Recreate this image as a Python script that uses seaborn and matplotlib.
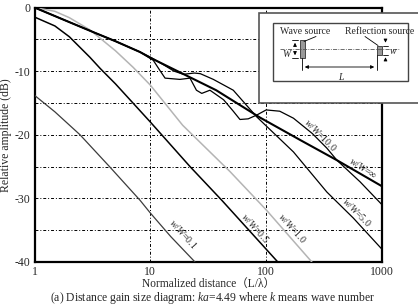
import numpy as np
import pandas as pd
import matplotlib
matplotlib.use('Agg')
import matplotlib.pyplot as plt
from matplotlib.patches import Rectangle
import seaborn as sns

# curve data (distance L/lambda, amplitude dB)
dist_01 = [1, 1.5, 2.47, 4.49, 8.15, 10, 15, 24.3]
amp_01 = [-13.8, -16.4, -20.0, -25.1, -30.3, -32.3, -36.0, -40.0]

dist_05 = [1, 1.5, 2, 3, 3.7, 5, 10, 22, 41.4, 126]
amp_05 = [-1.5, -2.9, -4.6, -7.8, -9.6, -12.0, -18.0, -25.0, -30.3, -40.0]

dist_10 = [1, 1.5, 2, 3, 5, 7.1, 10, 19, 48.8, 100, 248]
amp_10 = [0, -0.6, -1.6, -3.5, -6.8, -9.4, -12.2, -18.5, -25.8, -31.8, -40.0]

dist_50 = [1, 2, 3.45, 5, 8.15, 10, 13, 16, 19.3, 24, 27, 35, 52, 83, 172, 334, 566, 1000]
amp_50 = [0, -2.3, -4.1, -5.3, -7.0, -7.8, -9.0, -10.0, -10.5, -10.3, -10.4, -11.3,
          -13.0, -17.2, -22.7, -29.0, -33.1, -38.0]

dist_100 = [1, 2, 3.45, 5, 8.15, 10.6, 12, 13.4, 18, 22, 25, 27.8, 32.7, 42.9, 52,
            59.4, 70, 83, 100, 131, 172, 250, 334, 408, 647, 1000]
amp_100 = [0, -2.3, -4.1, -5.3, -7.0, -8.3, -9.8, -11.1, -11.3, -11.1, -13.0, -13.5,
           -13.0, -14.5, -16.3, -17.6, -17.5, -16.9, -16.1, -16.3, -17.4, -19.8,
           -22.1, -24.0, -27.4, -31.0]

dist_inf = [1, 2, 3.45, 5, 8.15, 10, 20, 37, 88.5, 200, 408, 1000]
amp_inf = [0, -2.3, -4.1, -5.3, -7.0, -7.9, -10.6, -13.0, -17.3, -20.9, -24.0, -28.1]

x_ticks = [1, 10, 100, 1000]
x_ticklabels = ['1', '10', '100', '1000']
y_ticks = [0, -10, -20, -30, -40]
y_ticklabels = ['0', '-10', '-20', '-30', '-40']

sns.set_style('white')
plt.rcParams['font.family'] = ['Liberation Serif', 'Noto Sans CJK JP', 'DejaVu Serif']
plt.rcParams['mathtext.fontset'] = 'custom'
plt.rcParams['mathtext.rm'] = 'Liberation Serif'
plt.rcParams['mathtext.it'] = 'Liberation Serif:italic'

W, H = 418, 306
fig = plt.figure(figsize=(W / 100, H / 100), dpi=100)
ax = fig.add_axes([34.5 / W, 1 - 262 / H, (382 - 34.5) / W, (262 - 7.5) / H])

curves = [
    (dist_01, amp_01, '#3c3c3c', 0.9),
    (dist_05, amp_05, 'black', 1.1),
    (dist_10, amp_10, '#b4b4b4', 1.1),
    (dist_50, amp_50, 'black', 0.9),
    (dist_100, amp_100, 'black', 0.9),
    (dist_inf, amp_inf, 'black', 1.5),
]
for d, a, c, lw in curves:
    df = pd.DataFrame({'dist': d, 'amp': a})
    sns.lineplot(data=df, x='dist', y='amp', ax=ax, color=c, lw=lw,
                 sort=False, estimator=None, zorder=3)

ax.set_xscale('log')
ax.set_xlim(1, 1000)
ax.set_ylim(-40, 0)
ax.set_xticks(x_ticks)
ax.set_xticklabels(x_ticklabels)
ax.xaxis.set_minor_locator(matplotlib.ticker.NullLocator())
ax.set_yticks(y_ticks)
ax.set_yticklabels(y_ticklabels)
ax.set_yticks([-5, -15, -25, -35], minor=True)
ax.tick_params(which='both', length=0, labelsize=8.5, pad=3)
ax.grid(True, which='both', color='black', lw=0.7, linestyle=(0, (3, 2, 1, 2)))
for s in ax.spines.values():
    s.set_linewidth(1.6)
    s.set_color('black')
ax.set_xlabel('')
ax.set_ylabel('Relative amplitude (dB)', fontsize=8.5, labelpad=2)
fig.text(208 / W, 1 - 284 / H, 'Normalized distance（L/λ）', fontsize=8.3,
         ha='center', va='center')

# curve labels
lab_kw = dict(fontsize=7, ha='center', va='center', zorder=4)
ax.text(19.2, -35.5, r'$w/W$=0.1', rotation=-48, **lab_kw)
ax.text(80, -34.7, r'$w/W$=0.5', rotation=-48, **lab_kw)
ax.text(167, -34.7, r'$w/W$=1.0', rotation=-48, **lab_kw)
ax.text(609, -32.2, r'$w/W$=5.0', rotation=-45, **lab_kw)
ax.text(687, -25.2, r'$w/W$=∞', rotation=-33, **lab_kw)
ax.text(292, -20.0, r'$w/W$=10.0', rotation=-45, **lab_kw)

fig.text(213 / W, 1 - 301.5 / H,
         r'(a) Distance gain size diagram: $ka$=4.49 where $k$ means wave number',
         fontsize=8.4, ha='center', va='baseline')

# inset sketch drawn in figure pixels
ov = fig.add_axes([0, 0, 1, 1], zorder=10)
ov.set_xlim(0, W)
ov.set_ylim(H, 0)
ov.axis('off')
ov.add_patch(Rectangle((259, 13), 160, 90, fc='white', ec='#555555', lw=1.2))
ov.add_patch(Rectangle((273, 23), 135, 58, fc='white', ec='#444444', lw=1.0))
ov.plot([280, 400], [49.3, 49.3], color='#555555', lw=0.6, ls=(0, (5, 1.5, 1, 1.5)))
ov.add_patch(Rectangle((300, 40), 5, 18, fc='#999999', ec='#333333', lw=0.6))
ov.add_patch(Rectangle((376.5, 45.5), 5, 9, fc='#999999', ec='#333333', lw=0.6))
ov.text(305, 32, 'Wave source', fontsize=7, ha='center', va='center')
ov.text(380, 32, 'Reflection source', fontsize=7, ha='center', va='center')
ov.plot([316, 304], [36.5, 41.5], color='black', lw=0.6)
ov.plot([365, 378], [36.5, 45.5], color='black', lw=0.6)
# W dimension
ov.plot([292, 298], [40, 40], color='black', lw=0.6)
ov.plot([292, 298], [58, 58], color='black', lw=0.6)
ov.annotate('', xy=(295, 40), xytext=(295, 49), arrowprops=dict(arrowstyle='-|>', lw=0.6, color='black', mutation_scale=5))
ov.annotate('', xy=(295, 58), xytext=(295, 49), arrowprops=dict(arrowstyle='-|>', lw=0.6, color='black', mutation_scale=5))
ov.text(287, 53.5, r'$W$', fontsize=7, ha='center', va='center')
# w dimension
ov.plot([383, 388], [45.5, 45.5], color='black', lw=0.6)
ov.plot([383, 388], [54.5, 54.5], color='black', lw=0.6)
ov.annotate('', xy=(385.5, 45.5), xytext=(385.5, 38), arrowprops=dict(arrowstyle='-|>', lw=0.6, color='black', mutation_scale=5))
ov.annotate('', xy=(385.5, 54.5), xytext=(385.5, 62), arrowprops=dict(arrowstyle='-|>', lw=0.6, color='black', mutation_scale=5))
ov.text(393, 51, r'$w$', fontsize=7, ha='center', va='center')
# L dimension
ov.plot([302, 302], [58, 70], color='black', lw=0.6)
ov.plot([377, 377], [54.5, 70], color='black', lw=0.6)
ov.annotate('', xy=(302, 67), xytext=(377, 67), arrowprops=dict(arrowstyle='<|-|>', lw=0.6, color='black', mutation_scale=5))
ov.text(342, 76, r'$L$', fontsize=7, ha='center', va='center')

fig.savefig('out.png', dpi=100)
